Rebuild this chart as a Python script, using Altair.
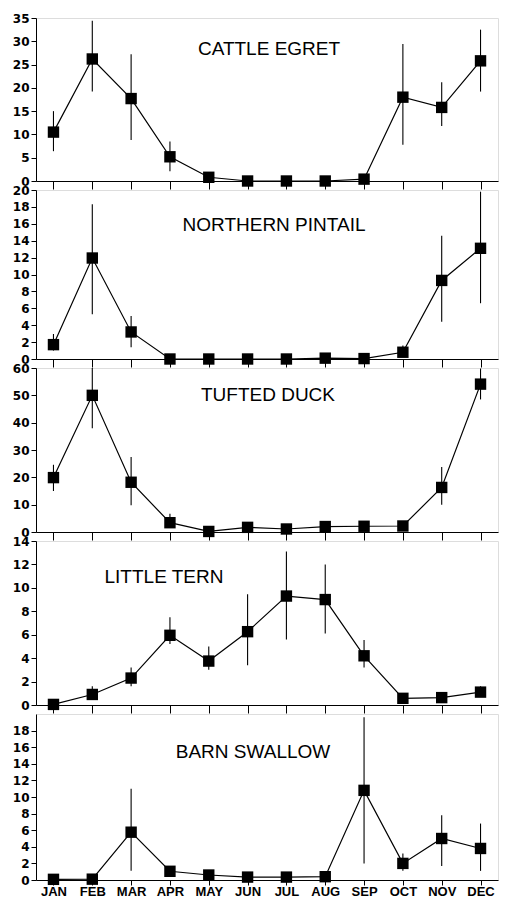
import altair as alt
import pandas as pd

months = ["JAN", "FEB", "MAR", "APR", "MAY", "JUN", "JUL", "AUG", "SEP", "OCT", "NOV", "DEC"]

species = ["CATTLE EGRET", "NORTHERN PINTAIL", "TUFTED DUCK", "LITTLE TERN", "BARN SWALLOW"]

egret_mean = [10.5, 26.2, 17.7, 5.2, 0.8, 0.0, 0.0, 0.0, 0.4, 18.0, 15.8, 25.8]
egret_low = [6.4, 19.2, 8.8, 2.1, 0.8, 0.0, 0.0, 0.0, 0.4, 7.8, 11.8, 19.2]
egret_high = [15.0, 34.4, 27.2, 8.5, 0.8, 0.0, 0.0, 0.0, 0.4, 29.4, 21.2, 32.5]

pintail_mean = [1.7, 11.95, 3.2, 0.0, 0.0, 0.0, 0.0, 0.1, 0.05, 0.8, 9.3, 13.1]
pintail_low = [1.0, 5.3, 1.4, 0.0, 0.0, 0.0, 0.0, 0.1, 0.05, 0.4, 4.4, 6.6]
pintail_high = [2.96, 18.3, 5.1, 0.0, 0.0, 0.0, 0.0, 0.1, 0.05, 1.6, 14.6, 19.8]

tufted_mean = [19.9, 50.0, 18.2, 3.4, 0.2, 1.7, 1.1, 2.0, 2.1, 2.2, 16.3, 54.1]
tufted_low = [15.0, 38.0, 9.8, 1.8, 0.2, 1.7, 1.1, 2.0, 2.1, 2.2, 10.0, 48.5]
tufted_high = [24.6, 60.0, 27.4, 6.7, 0.2, 1.7, 1.1, 2.0, 2.1, 2.2, 23.8, 59.8]

tern_mean = [0.05, 0.9, 2.3, 5.95, 3.75, 6.26, 9.3, 9.0, 4.2, 0.57, 0.63, 1.1]
tern_low = [0.05, 0.5, 1.6, 5.2, 3.0, 3.4, 5.6, 6.1, 3.2, 0.57, 0.63, 0.8]
tern_high = [0.05, 1.6, 3.2, 7.5, 5.0, 9.45, 13.1, 12.0, 5.55, 0.57, 0.63, 1.6]

swallow_mean = [0.08, 0.1, 5.76, 1.05, 0.6, 0.35, 0.35, 0.4, 10.8, 2.0, 5.0, 3.8]
swallow_low = [0.08, 0.1, 1.1, 0.7, 0.6, 0.35, 0.35, 0.4, 2.0, 1.1, 1.7, 1.1]
swallow_high = [0.08, 0.1, 11.0, 1.7, 0.6, 0.35, 0.35, 0.4, 19.6, 3.2, 7.8, 6.8]

y_domains = [[0, 35], [0, 20], [0, 60], [0, 14], [0, 20]]
y_ticks = [
    [0, 5, 10, 15, 20, 25, 30, 35],
    [0, 2, 4, 6, 8, 10, 12, 14, 16, 18, 20],
    [0, 10, 20, 30, 40, 50, 60],
    [0, 2, 4, 6, 8, 10, 12, 14],
    [0, 2, 4, 6, 8, 10, 12, 14, 16, 18],
]
heights = [163, 169, 164, 164, 166]
title_pos = [(233, 31), (238, 35), (232, 27), (128, 36), (217, 38)]

series = [
    (egret_mean, egret_low, egret_high),
    (pintail_mean, pintail_low, pintail_high),
    (tufted_mean, tufted_low, tufted_high),
    (tern_mean, tern_low, tern_high),
    (swallow_mean, swallow_low, swallow_high),
]

W = 462
panels = []
for i, (name, (m, lo, hi)) in enumerate(zip(species, series)):
    df = pd.DataFrame({"month": months, "mean": m, "low": lo, "high": hi})
    last = i == len(species) - 1
    xaxis = alt.Axis(
        title=None,
        labels=last,
        labelAngle=0,
        tickSize=5 if last else 8,
        labelPadding=0,
        labelFont="Liberation Sans",
        labelFontWeight="bold",
        labelFontSize=13,
        labelColor="black",
        domainColor="black",
        tickColor="black",
        grid=False,
    )
    x = alt.X("month:O", sort=months, scale=alt.Scale(type="point", padding=0.45), axis=xaxis)
    yaxis = alt.Axis(
        title=None,
        values=y_ticks[i],
        tickSize=5,
        labelPadding=2,
        labelFont="DejaVu Sans",
        labelFontWeight="bold",
        labelFontSize=12,
        labelColor="black",
        domainColor="black",
        tickColor="black",
        grid=False,
        labelOverlap=False,
        minExtent=25,
        maxExtent=25,
    )
    yscale = alt.Scale(domain=y_domains[i], nice=False, zero=True)
    base = alt.Chart(df)
    rules = base.mark_rule(color="black", strokeWidth=1.1).encode(
        x=x, y=alt.Y("low:Q", scale=yscale, axis=yaxis), y2="high:Q"
    )
    line = base.mark_line(color="black", strokeWidth=1.2).encode(
        x=x, y=alt.Y("mean:Q", scale=yscale, axis=yaxis)
    )
    pts = base.mark_point(shape="square", filled=True, color="black", opacity=1, size=130).encode(
        x=x, y=alt.Y("mean:Q", scale=yscale, axis=yaxis)
    )
    tx, ty = title_pos[i]
    label = alt.Chart(pd.DataFrame({"t": [name]})).mark_text(
        font="Liberation Sans", fontSize=19, color="black", align="center", baseline="middle"
    ).encode(text="t:N", x=alt.value(tx), y=alt.value(ty))
    panels.append(
        alt.layer(rules, line, pts, label).properties(width=W, height=heights[i])
    )

chart = (
    alt.vconcat(*panels, spacing=9, bounds="flush")
    .properties(padding={"left": 2, "right": 0, "top": 3, "bottom": 0})
    .configure_view(stroke="black", strokeWidth=1.3)
    .configure(background="white")
)

chart.save("out.html", embed_options={"renderer": "svg", "actions": False})
